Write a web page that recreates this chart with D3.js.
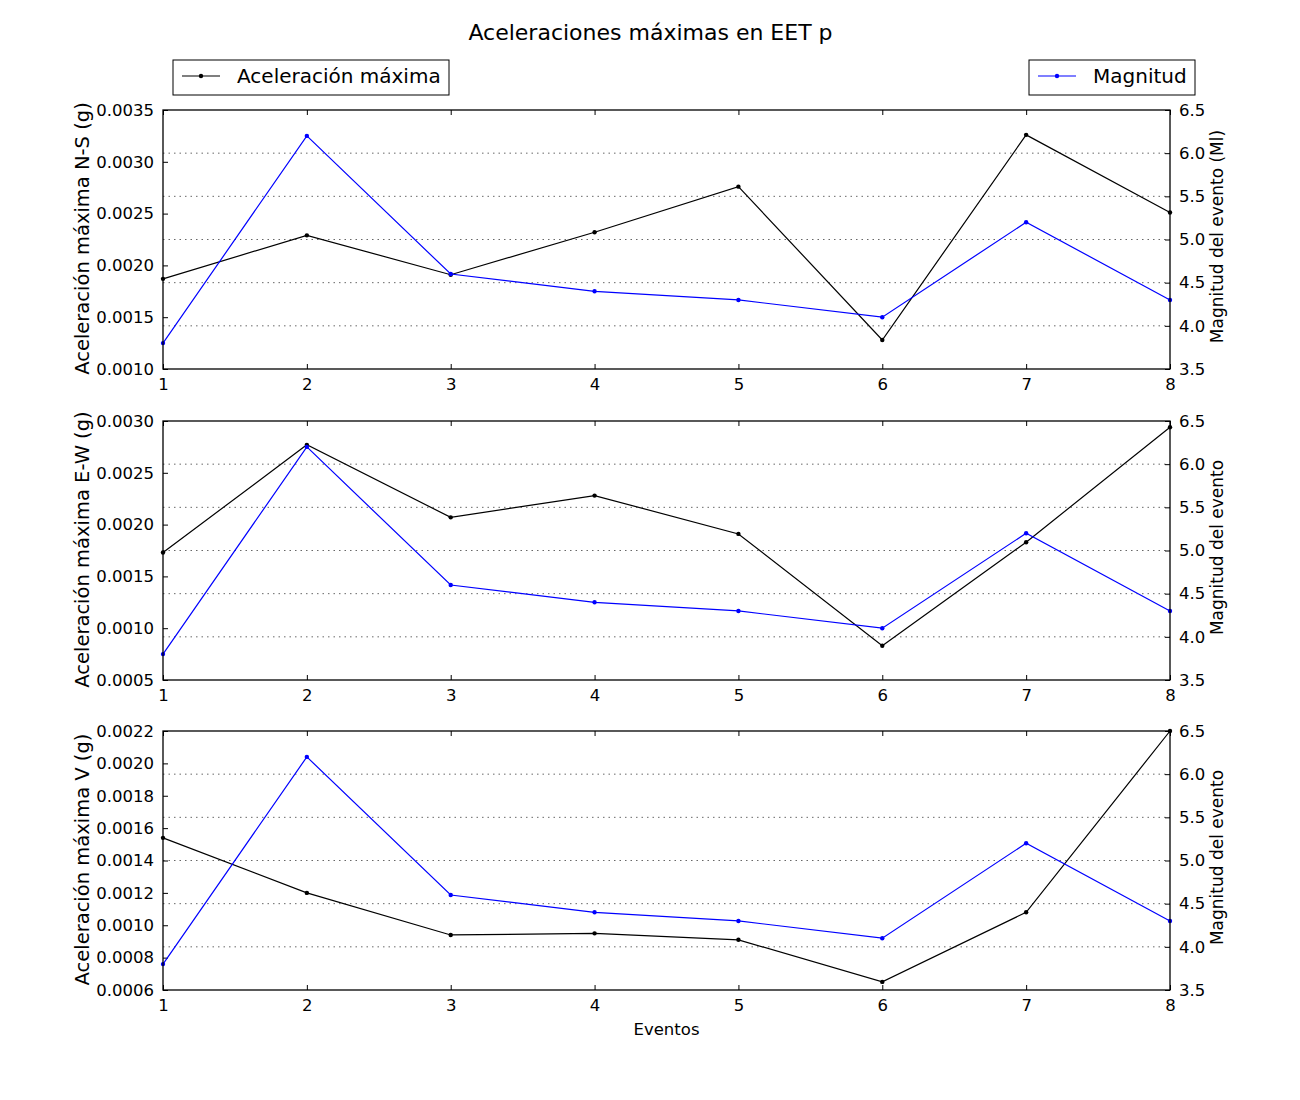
<!DOCTYPE html>
<html>
<head>
<meta charset="utf-8">
<script src="https://cdn.jsdelivr.net/npm/d3@7"></script>
<style>
  body { margin: 0; background: #fff; }
  svg text { font-family: "DejaVu Sans", sans-serif; }
</style>
</head>
<body>
<div id="wrapper"></div>
<script>
// event numbers and per-event values
var eventos = [1, 2, 3, 4, 5, 6, 7, 8]
var magnitud = [3.8, 6.2, 4.6, 4.4, 4.3, 4.1, 5.2, 4.3]
var accNS = [0.00187, 0.00229, 0.00191, 0.00232, 0.00276, 0.00128, 0.00326, 0.00251]
var accEW = [0.00173, 0.00277, 0.00207, 0.00228, 0.00191, 0.00083, 0.00183, 0.00294]
var accV = [0.00154, 0.00120, 0.00094, 0.00095, 0.00091, 0.00065, 0.00108, 0.00220]

var panels = [
    { acc: accNS, domain: [0.0010, 0.0035], step: 0.0005, label: "Aceleración máxima N-S (g)", rlabel: "Magnitud del evento (Ml)" },
    { acc: accEW, domain: [0.0005, 0.0030], step: 0.0005, label: "Aceleración máxima E-W (g)", rlabel: "Magnitud del evento" },
    { acc: accV, domain: [0.0006, 0.0022], step: 0.0002, label: "Aceleración máxima V (g)", rlabel: "Magnitud del evento" }
]
var magDomain = [3.5, 6.5]
var magTicks = [3.5, 4.0, 4.5, 5.0, 5.5, 6.0, 6.5]

var W = 1300, H = 1100
var left = 163, right = 1170
var tops = [110, 421, 731], ph = 259

var svg = d3.select("#wrapper").append("svg")
    .attr("width", W).attr("height", H)

svg.append("text")
    .attr("x", (left + right) / 2 - 16).attr("y", 40)
    .attr("text-anchor", "middle")
    .style("font-size", "22px")
    .text("Aceleraciones máximas en EET p")

var xScale = d3.scaleLinear().domain([1, 8]).range([left, right])

panels.forEach(function (p, k) {
    var top = tops[k], bottom = top + ph
    var g = svg.append("g")

    var yScale = d3.scaleLinear().domain(p.domain).range([bottom, top])
    var mScale = d3.scaleLinear().domain(magDomain).range([bottom, top])

    // dotted grid from the right axis
    g.selectAll(".grid").data(magTicks.slice(1, -1)).join("line")
        .attr("x1", left).attr("x2", right)
        .attr("y1", d => mScale(d)).attr("y2", d => mScale(d))
        .attr("stroke", "#000").attr("stroke-width", 0.6)
        .attr("stroke-dasharray", "1.5,4")

    var accTicks = d3.range(p.domain[0], p.domain[1] + p.step / 2, p.step)

    // left axis
    var yAxis = d3.axisLeft(yScale).tickValues(accTicks)
        .tickFormat(d3.format(".4f")).tickSizeInner(-5).tickSizeOuter(0).tickPadding(9)
    g.append("g").attr("transform", "translate(" + left + ",0)").call(yAxis)
        .call(a => a.select(".domain").remove())

    // right axis
    var mAxis = d3.axisRight(mScale).tickValues(magTicks)
        .tickFormat(d3.format(".1f")).tickSizeInner(-5).tickSizeOuter(0).tickPadding(9)
    g.append("g").attr("transform", "translate(" + right + ",0)").call(mAxis)
        .call(a => a.select(".domain").remove())

    // bottom axis
    var xAxis = d3.axisBottom(xScale).tickValues(eventos)
        .tickFormat(d3.format("d")).tickSizeInner(-5).tickSizeOuter(0).tickPadding(9)
    g.append("g").attr("transform", "translate(0," + bottom + ")").call(xAxis)
        .call(a => a.select(".domain").remove())

    // top ticks
    g.append("g").attr("transform", "translate(0," + top + ")")
        .call(d3.axisTop(xScale).tickValues(eventos).tickFormat("").tickSizeInner(-5).tickSizeOuter(0))
        .call(a => a.select(".domain").remove())

    g.selectAll(".tick text").style("font-size", "16.5px").attr("fill", "#000")
    g.selectAll(".tick line").attr("stroke", "#000")

    var accLine = d3.line().x((d, i) => xScale(eventos[i])).y(d => yScale(d))
    var magLine = d3.line().x((d, i) => xScale(eventos[i])).y(d => mScale(d))

    g.append("path").attr("d", accLine(p.acc))
        .attr("fill", "none").attr("stroke", "#000").attr("stroke-width", 1.2)
    g.selectAll(".accpt").data(p.acc).join("circle")
        .attr("cx", (d, i) => xScale(eventos[i])).attr("cy", d => yScale(d))
        .attr("r", 2.2).attr("fill", "#000")

    g.append("path").attr("d", magLine(magnitud))
        .attr("fill", "none").attr("stroke", "#0000ff").attr("stroke-width", 1.2)
    g.selectAll(".magpt").data(magnitud).join("circle")
        .attr("cx", (d, i) => xScale(eventos[i])).attr("cy", d => mScale(d))
        .attr("r", 2.2).attr("fill", "#0000ff")

    // frame
    g.append("rect").attr("x", left).attr("y", top)
        .attr("width", right - left).attr("height", ph)
        .attr("fill", "none").attr("stroke", "#000").attr("stroke-width", 1.3)

    svg.append("text")
        .attr("transform", "translate(89," + (top + ph / 2 - 1) + ") rotate(-90)")
        .attr("text-anchor", "middle")
        .style("font-size", "19.5px")
        .text(p.label)

    svg.append("text")
        .attr("transform", "translate(1223," + (top + ph / 2 - 3) + ") rotate(-90)")
        .attr("text-anchor", "middle")
        .style("font-size", "17px")
        .text(p.rlabel)
})

svg.append("text")
    .attr("x", (left + right) / 2).attr("y", 1035)
    .attr("text-anchor", "middle")
    .style("font-size", "16.5px")
    .text("Eventos")

// legends
function legend(x, w, color, label) {
    var lg = svg.append("g").attr("transform", "translate(" + x + ",60)")
    lg.append("rect").attr("width", w).attr("height", 35)
        .attr("fill", "#fff").attr("stroke", "#000").attr("stroke-width", 1)
    lg.append("line").attr("x1", 9).attr("x2", 47).attr("y1", 16).attr("y2", 16)
        .attr("stroke", color).attr("stroke-width", 1.2)
    lg.append("circle").attr("cx", 28).attr("cy", 16).attr("r", 2.2).attr("fill", color)
    lg.append("text").attr("x", 64).attr("y", 23)
        .style("font-size", "20px").text(label)
}
legend(173, 276, "#000", "Aceleración máxima")
legend(1029, 166, "#0000ff", "Magnitud")
</script>
</body>
</html>
